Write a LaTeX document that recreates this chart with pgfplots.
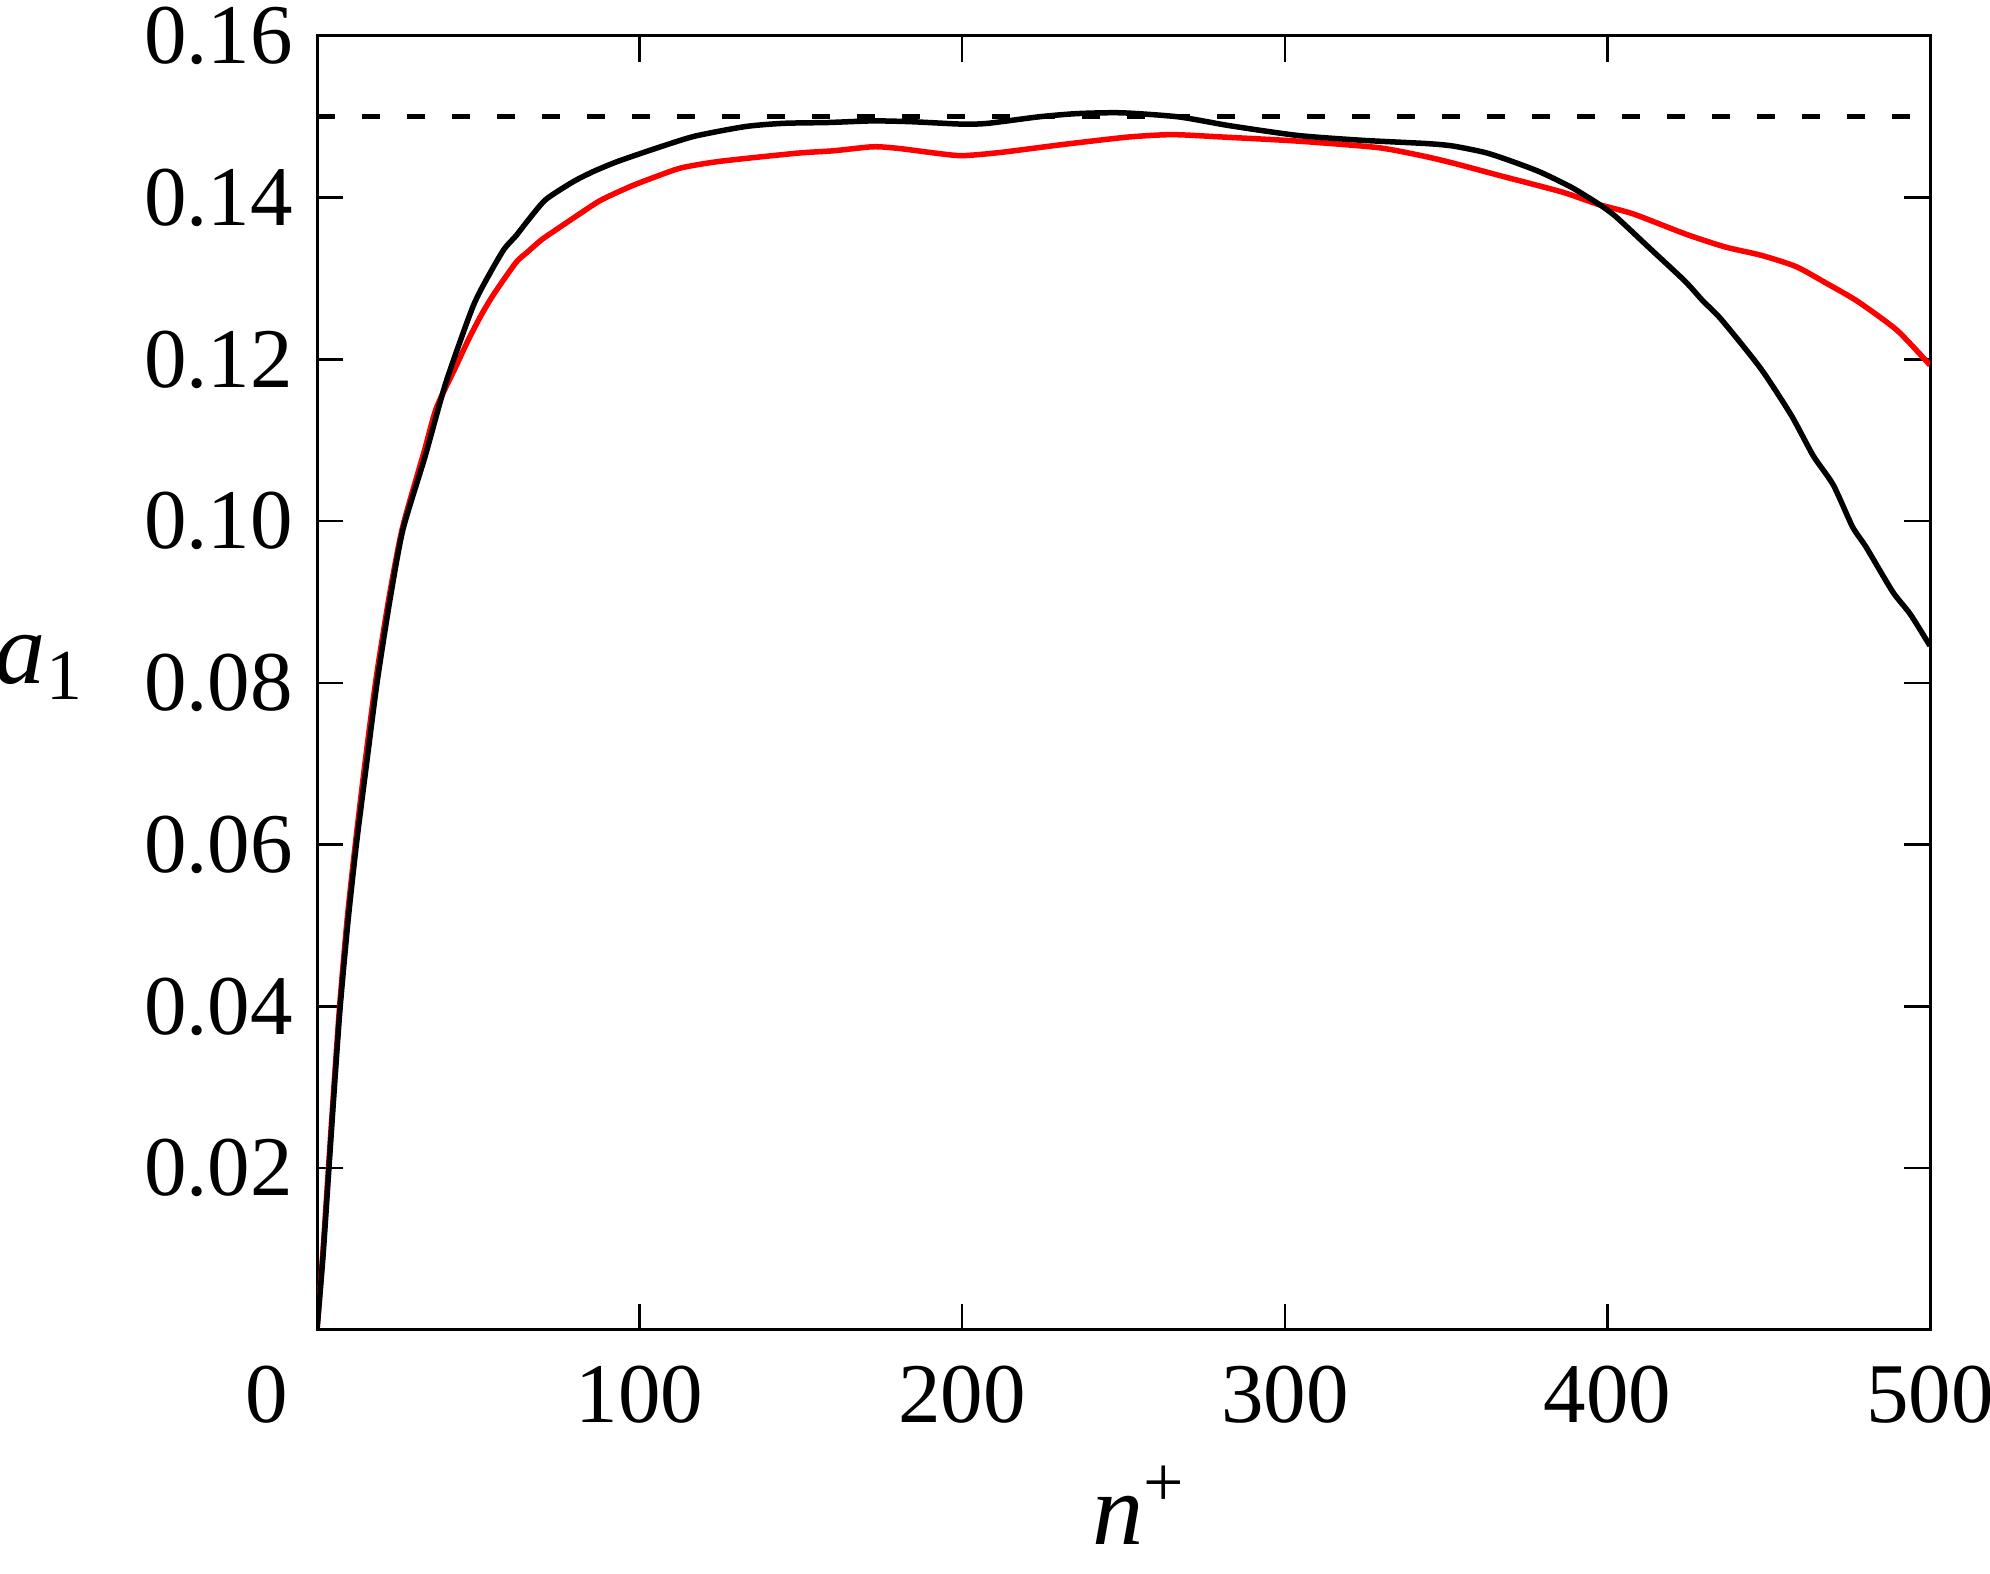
\documentclass[border=0pt]{standalone}
\usepackage{pgfplots}
\pgfplotsset{compat=1.18}
\usepackage{fontspec}
\setmainfont{Liberation Serif}

\begin{document}
\begin{tikzpicture}
\useasboundingbox (-63.4pt,-48.8pt) rectangle (334.6pt,266pt);
\begin{axis}[
  scale only axis,width=322.6pt,height=258.8pt,
  xmin=0,xmax=500,ymin=0,ymax=0.16,
  xtick={100,200,300,400,500},
  ytick={0.02,0.04,0.06,0.08,0.10,0.12,0.14,0.16},
  yticklabels={0.02,0.04,0.06,0.08,0.10,0.12,0.14,0.16},
  extra x ticks={0},extra x tick labels={0},
  extra x tick style={major tick length=0pt,xticklabel style={xshift=-10pt}},
  scaled y ticks=false,
  tick align=inside,major tick length=5.2pt,
  axis line style={line width=0.6pt},
  every tick/.style={black,line width=0.5pt},
  /pgf/number format/assume math mode=true,
  ticklabel style={font=\fontsize{17}{20}\selectfont},
  xticklabel style={yshift=-3.6pt},
  yticklabel style={xshift=-1.3pt},
  xlabel={{\itshape n}\textsuperscript{+}},
  ylabel={{\itshape a}\textsubscript{1}},
  label style={font=\fontsize{20.5}{24}\selectfont},
  xlabel style={at={(axis description cs:0.51,0)},anchor=center,yshift=-35pt},
  ylabel style={rotate=-90,at={(axis description cs:-0.172,0.512)},anchor=center},
]
\addplot[black,line width=1pt,dash pattern=on 3.6pt off 5.4pt] coordinates {(0,0.15)(500,0.15)};
% red run
\addplot[red,line width=1.1pt,smooth,tension=0.4] coordinates {
(0,0)(1.8,0.0095)(3.6,0.0203)(5.4,0.031)(7.1,0.0405)(9.4,0.051)(12,0.0605)(15,0.0705)
(18.3,0.0805)(22.3,0.0905)(26.5,0.0992)(33.2,0.1086)(37,0.1140)(42.9,0.1190)(47,0.1225)
(51.2,0.1257)(55,0.1282)(61.7,0.1320)(65,0.1332)(69.6,0.1348)(74.7,0.1362)(81.4,0.1380)
(88,0.1397)(97.2,0.1414)(105,0.1426)(113,0.1437)(124.9,0.1445)(148.6,0.1455)(160,0.1458)
(172.3,0.1463)(180.2,0.1461)(192,0.1455)(200,0.1452)(211.9,0.1456)(231.6,0.1466)
(251.4,0.1475)(265.2,0.1478)(281,0.1475)(304,0.1470)(328.8,0.1462)(342.4,0.1452)
(352,0.1443)(367,0.1427)(386,0.1407)(397,0.1392)(408,0.1380)(424.3,0.1355)(436.6,0.1339)
(447.5,0.1329)(458.4,0.1315)(468,0.1294)(477.5,0.1272)(489.8,0.1236)(500,0.1193)};
% black run
\addplot[black,line width=1.1pt,smooth,tension=0.4] coordinates {
(0,0)(1.9,0.0093)(3.7,0.02)(5.5,0.0306)(7.2,0.04)(9.6,0.0505)(12.2,0.06)(15.3,0.0698)
(18.6,0.08)(22.5,0.09)(26.6,0.0989)(33.5,0.1080)(40,0.1172)(48.4,0.1266)(53.8,0.1308)
(58.1,0.1337)(61.7,0.1353)(66,0.1375)(71,0.1398)(79.5,0.1420)(86,0.1433)(93.3,0.1445)
(105,0.1461)(117,0.1476)(132.8,0.1488)(144.7,0.1492)(158.5,0.1493)(172.3,0.1495)
(184.2,0.1494)(200,0.1491)(208,0.1492)(223.7,0.1500)(235.6,0.1504)(249.4,0.1505)
(267,0.1500)(283,0.1489)(304,0.1477)(324,0.1471)(343.8,0.1467)(352,0.1464)(362,0.1456)
(369.7,0.1446)(379,0.1432)(388.8,0.1413)(397,0.1393)(402.5,0.1377)(413,0.1338)
(424,0.1297)(429.7,0.1272)(435.2,0.1250)(447.5,0.1189)(457,0.1131)(463.8,0.1081)
(470,0.1045)(476,0.0993)(480.2,0.0968)(488.4,0.0913)(493.9,0.0885)(500,0.0846)};
\end{axis}
\end{tikzpicture}
\end{document}
